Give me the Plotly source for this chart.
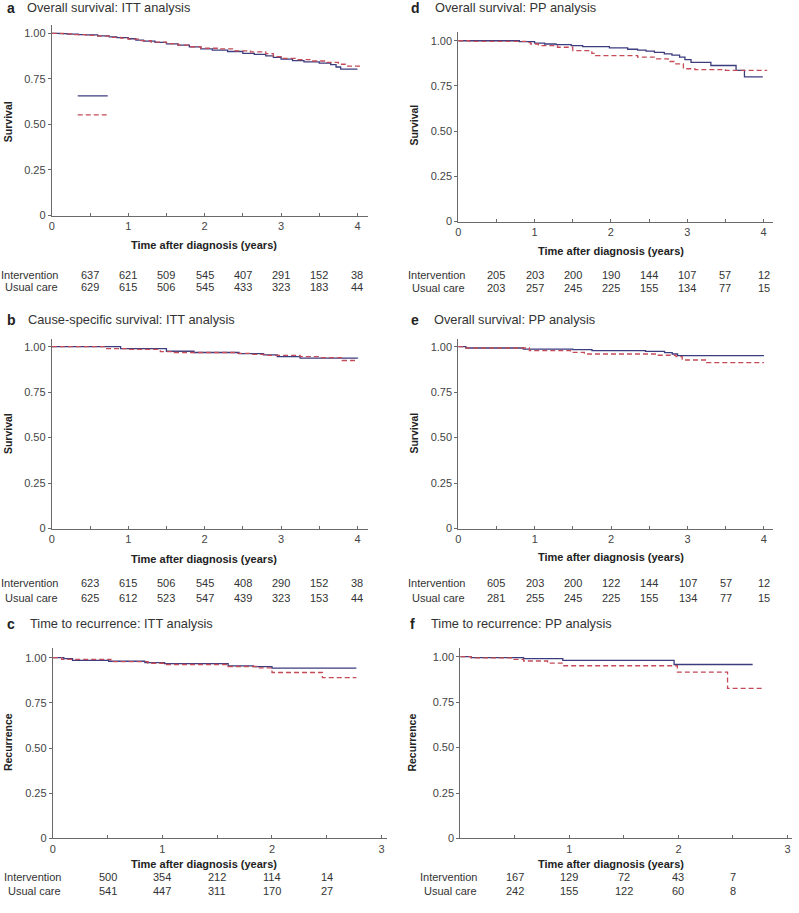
import plotly.graph_objects as go

W, H = 799, 913

# ---------------- data ----------------
series_names = ["Intervention", "Usual care"]

# a: Overall survival, ITT
a_int_t = [0, 0.1, 0.2, 0.35, 0.45, 0.6, 0.75, 0.85, 1.0, 1.1, 1.2, 1.35, 1.5, 1.65, 1.8, 1.95, 2.1, 2.3, 2.5,
           2.65, 2.8, 2.9, 3.0, 3.15, 3.3, 3.5, 3.65, 3.72, 3.78, 4.0]
a_int_s = [1.0, 0.998, 0.995, 0.993, 0.991, 0.986, 0.980, 0.976, 0.970, 0.963, 0.957, 0.950, 0.942, 0.935, 0.925,
           0.915, 0.908, 0.900, 0.890, 0.884, 0.876, 0.868, 0.858, 0.850, 0.843, 0.836, 0.828, 0.815, 0.803, 0.803]
a_usual_t = [0, 0.15, 0.3, 0.45, 0.6, 0.75, 0.9, 1.0, 1.15, 1.3, 1.5, 1.65, 1.8, 1.95, 2.2, 2.4, 2.6, 2.8, 2.9,
             3.0, 3.2, 3.4, 3.6, 3.75, 3.85, 4.05]
a_usual_s = [1.0, 0.997, 0.993, 0.988, 0.984, 0.978, 0.973, 0.968, 0.960, 0.952, 0.943, 0.935, 0.926, 0.918, 0.914,
             0.904, 0.898, 0.888, 0.872, 0.862, 0.856, 0.848, 0.840, 0.830, 0.820, 0.820]

# b: Cause-specific survival, ITT
b_int_t = [0, 0.9, 1.5, 1.86, 2.45, 2.77, 2.95, 3.25, 4.0]
b_int_s = [1.0, 0.99, 0.975, 0.968, 0.962, 0.955, 0.945, 0.937, 0.935]
b_usual_t = [0, 0.7, 1.0, 1.42, 1.6, 2.4, 2.6, 2.8, 3.25, 3.5, 3.8, 4.0]
b_usual_s = [1.0, 0.99, 0.985, 0.973, 0.968, 0.963, 0.958, 0.952, 0.945, 0.940, 0.924, 0.924]

# c: Time to recurrence, ITT
c_int_t = [0, 0.1, 0.18, 0.51, 0.84, 1.02, 1.6, 1.83, 2.0, 2.77]
c_int_s = [1.0, 0.995, 0.985, 0.98, 0.973, 0.967, 0.955, 0.95, 0.942, 0.942]
c_usual_t = [0, 0.08, 0.53, 0.87, 1.02, 1.6, 1.87, 2.0, 2.46, 2.77]
c_usual_s = [1.0, 0.991, 0.978, 0.969, 0.962, 0.951, 0.944, 0.918, 0.889, 0.889]

# d: Overall survival, PP
d_int_t = [0, 0.8, 1.0, 1.13, 1.28, 1.48, 1.63, 1.98, 2.22, 2.35, 2.46, 2.57, 2.7, 2.8, 2.9, 2.97, 3.05, 3.31,
           3.64, 3.75, 3.99]
d_int_s = [1.0, 0.995, 0.987, 0.982, 0.978, 0.973, 0.967, 0.960, 0.953, 0.948, 0.942, 0.936, 0.927, 0.920,
           0.909, 0.896, 0.880, 0.863, 0.836, 0.800, 0.800]
d_usual_t = [0, 0.15, 0.9, 0.95, 1.05, 1.3, 1.5, 1.75, 1.8, 2.35, 2.6, 2.75, 2.85, 2.95, 3.1, 3.5, 4.04]
d_usual_s = [1.0, 0.996, 0.99, 0.982, 0.973, 0.964, 0.945, 0.93, 0.918, 0.909, 0.90, 0.885, 0.872, 0.845,
             0.84, 0.836, 0.834]

# e: Overall survival, PP
e_int_t = [0, 0.1, 0.85, 1.5, 1.75, 2.45, 2.7, 2.8, 2.87, 4.0]
e_int_s = [1.0, 0.993, 0.987, 0.984, 0.978, 0.974, 0.967, 0.96, 0.951, 0.951]
e_usual_t = [0, 0.1, 0.93, 1.47, 1.65, 2.6, 2.85, 2.93, 3.25, 4.0]
e_usual_s = [1.0, 0.993, 0.978, 0.969, 0.96, 0.953, 0.945, 0.927, 0.912, 0.912]

# f: Time to recurrence, PP
f_int_t = [0, 0.1, 0.58, 0.94, 1.96, 2.68]
f_int_s = [1.0, 0.995, 0.989, 0.98, 0.957, 0.957]
f_usual_t = [0, 0.1, 0.48, 0.58, 0.8, 0.94, 1.99, 2.45, 2.77]
f_usual_s = [1.0, 0.993, 0.985, 0.976, 0.964, 0.95, 0.915, 0.826, 0.826]

# numbers at risk
risk_times_4y = [0.5, 1, 1.5, 2, 2.5, 3, 3.5, 4]
risk_times_3y = [0.5, 1, 1.5, 2, 2.5]
a_risk_int = [637, 621, 509, 545, 407, 291, 152, 38]
a_risk_usual = [629, 615, 506, 545, 433, 323, 183, 44]
b_risk_int = [623, 615, 506, 545, 408, 290, 152, 38]
b_risk_usual = [625, 612, 523, 547, 439, 323, 153, 44]
c_risk_int = [500, 354, 212, 114, 14]
c_risk_usual = [541, 447, 311, 170, 27]
d_risk_int = [205, 203, 200, 190, 144, 107, 57, 12]
d_risk_usual = [203, 257, 245, 225, 155, 134, 77, 15]
e_risk_int = [605, 203, 200, 122, 144, 107, 57, 12]
e_risk_usual = [281, 255, 245, 225, 155, 134, 77, 15]
f_risk_int = [167, 129, 72, 43, 7]
f_risk_usual = [242, 155, 122, 60, 8]

y_tickvals = [0, 0.25, 0.5, 0.75, 1.0]
y_ticktext = ["0", "0.25", "0.50", "0.75", "1.00"]

# ---------------- styling / layout (pixels) ----------------
FONT = "Liberation Sans, Arial, Helvetica, sans-serif"
C_INT = "#3b3d7e"
C_USU = "#c44b57"
AXC = "#6a6a6a"
TXT = "#333333"

panels = [
    dict(key="a", letter="a", title="Overall survival: ITT analysis", ylab="Survival",
         lx=2, tx=22, ty=8, x0=49, xend=366, xu=76.7, y0=217, y1=33.5, ytop=25,
         ytx=5, yty=122, xtitle_x=202, xtitle_y=247, row_x=57, rows_y=(277, 289),
         data=(a_int_t, a_int_s, a_usual_t, a_usual_s), risk=(risk_times_4y, a_risk_int, a_risk_usual),
         xt=[0, 1, 2, 3, 4], minor=[0.5, 1.5, 2.5, 3.5]),
    dict(key="b", letter="b", title="Cause-specific survival: ITT analysis", ylab="Survival",
         lx=2, tx=23, ty=322, x0=49, xend=366, xu=76.7, y0=532, y1=349, ytop=341,
         ytx=5, yty=436, xtitle_x=202, xtitle_y=563, row_x=57, rows_y=(587, 602),
         data=(b_int_t, b_int_s, b_usual_t, b_usual_s), risk=(risk_times_4y, b_risk_int, b_risk_usual),
         xt=[0, 1, 2, 3, 4], minor=[0.5, 1.5, 2.5, 3.5]),
    dict(key="c", letter="c", title="Time to recurrence: ITT analysis", ylab="Recurrence",
         lx=2, tx=25, ty=628, x0=50, xend=385, xu=110.0, y0=844, y1=662, ytop=652,
         ytx=5, yty=747, xtitle_x=202, xtitle_y=870, row_x=60, rows_y=(883, 897),
         data=(c_int_t, c_int_s, c_usual_t, c_usual_s), risk=(risk_times_3y, c_risk_int, c_risk_usual),
         xt=[0, 1, 2, 3], minor=[0.5, 1.5, 2.5]),
    dict(key="d", letter="d", title="Overall survival: PP analysis", ylab="Survival",
         lx=408, tx=432, ty=8, x0=457, xend=773, xu=76.6, y0=223, y1=41, ytop=32,
         ytx=413, yty=126, xtitle_x=610, xtitle_y=253, row_x=466, rows_y=(277, 290),
         data=(d_int_t, d_int_s, d_usual_t, d_usual_s), risk=(risk_times_4y, d_risk_int, d_risk_usual),
         xt=[0, 1, 2, 3, 4], minor=[0.5, 1.5, 2.5, 3.5]),
    dict(key="e", letter="e", title="Overall survival: PP analysis", ylab="Survival",
         lx=408, tx=431, ty=322, x0=457, xend=773, xu=76.7, y0=532, y1=349, ytop=341,
         ytx=413, yty=436, xtitle_x=610, xtitle_y=561, row_x=466, rows_y=(587, 602),
         data=(e_int_t, e_int_s, e_usual_t, e_usual_s), risk=(risk_times_4y, e_risk_int, e_risk_usual),
         xt=[0, 1, 2, 3, 4], minor=[0.5, 1.5, 2.5, 3.5]),
    dict(key="f", letter="f", title="Time to recurrence: PP analysis", ylab="Recurrence",
         lx=407, tx=428, ty=628, x0=459, xend=792, xu=109.5, y0=844, y1=661, ytop=652,
         ytx=411, yty=747, xtitle_x=610, xtitle_y=870, row_x=478, rows_y=(883, 897),
         data=(f_int_t, f_int_s, f_usual_t, f_usual_s), risk=(risk_times_3y, f_risk_int, f_risk_usual),
         xt=[1, 2, 3], minor=[0.5, 1.5, 2.5]),
]


def px(x):
    return x / W


def py(y):
    return 1 - y / H


fig = go.Figure()
annotations = []
layout = {}

for i, p in enumerate(panels):
    n = "" if i == 0 else str(i + 1)
    xa, ya = "xaxis" + n, "yaxis" + n
    xr, yr = "x" + n, "y" + n
    t_int, s_int, t_usu, s_usu = p["data"]
    fig.add_trace(go.Scatter(x=t_int, y=s_int, mode="lines", name=series_names[0], xaxis=xr, yaxis=yr,
                             line=dict(color=C_INT, width=1.3, shape="hv"), showlegend=(i == 0),
                             legendgroup="int"))
    fig.add_trace(go.Scatter(x=t_usu, y=s_usu, mode="lines", name=series_names[1], xaxis=xr, yaxis=yr,
                             line=dict(color=C_USU, width=1.3, shape="hv", dash="5px,3px"),
                             showlegend=(i == 0), legendgroup="usu"))

    xmax = (p["xend"] - p["x0"]) / p["xu"]
    ymax = (p["y0"] - p["ytop"]) / (p["y0"] - p["y1"])
    layout[xa] = dict(domain=[px(p["x0"]), px(p["xend"])], range=[0, xmax], anchor=yr,
                      tickvals=p["xt"], ticktext=[str(v) for v in p["xt"]],
                      ticks="inside", ticklen=3, tickwidth=1, tickcolor=AXC,
                      minor=dict(tickvals=p["minor"], ticks="inside", ticklen=3, tickwidth=1, tickcolor=AXC),
                      showline=True, linecolor=AXC, linewidth=1, showgrid=False, zeroline=False,
                      tickfont=dict(family=FONT, size=11, color="#444444"), fixedrange=True)
    layout[ya] = dict(domain=[py(p["y0"]), py(p["ytop"])], range=[0, ymax], anchor=xr,
                      tickvals=y_tickvals, ticktext=y_ticktext,
                      ticks="outside", ticklen=3, tickwidth=1, tickcolor=AXC,
                      showline=True, linecolor=AXC, linewidth=1, showgrid=False, zeroline=False,
                      tickfont=dict(family=FONT, size=11, color="#444444"), fixedrange=True)

    # panel letter + title
    annotations.append(dict(text="<b>%s</b>" % p["letter"], x=px(p["lx"]), y=py(p["ty"]), xref="paper",
                            yref="paper", xanchor="left", yanchor="middle", showarrow=False,
                            font=dict(family=FONT, size=14, color="#222222")))
    annotations.append(dict(text=p["title"], x=px(p["tx"]), y=py(p["ty"]), xref="paper", yref="paper",
                            xanchor="left", yanchor="middle", showarrow=False,
                            font=dict(family=FONT, size=12.8, color=TXT)))
    # y title
    annotations.append(dict(text="<b>%s</b>" % p["ylab"], x=px(p["ytx"]), y=py(p["yty"]), xref="paper",
                            yref="paper", xanchor="center", yanchor="middle", textangle=-90, showarrow=False,
                            font=dict(family=FONT, size=10.5, color="#222222")))
    # x title
    annotations.append(dict(text="<b>Time after diagnosis (years)</b>", x=px(p["xtitle_x"]),
                            y=py(p["xtitle_y"]), xref="paper", yref="paper", xanchor="center",
                            yanchor="middle", showarrow=False, font=dict(family=FONT, size=11, color="#222222")))
    # risk table
    rt, r_int, r_usu = p["risk"]
    for lab, vals, yy in ((series_names[0], r_int, p["rows_y"][0]), (series_names[1], r_usu, p["rows_y"][1])):
        annotations.append(dict(text=lab, x=px(p["row_x"]), y=py(yy), xref="paper", yref="paper",
                                xanchor="right", yanchor="middle", showarrow=False,
                                font=dict(family=FONT, size=11, color=TXT)))
        for t, v in zip(rt, vals):
            annotations.append(dict(text=str(v), x=t, y=py(yy), xref=xr, yref="paper", xanchor="center",
                                    yanchor="middle", showarrow=False,
                                    font=dict(family=FONT, size=11, color=TXT)))

fig.update_layout(
    width=W, height=H, margin=dict(l=0, r=0, t=0, b=0),
    paper_bgcolor="white", plot_bgcolor="white",
    annotations=annotations,
    showlegend=True,
    legend=dict(x=px(70), y=py(82), xanchor="left", yanchor="top", bgcolor="rgba(0,0,0,0)",
                font=dict(family=FONT, size=10.5, color="rgba(0,0,0,0)"), tracegroupgap=0,
                borderwidth=0),
    **layout,
)

fig.write_html("out.html", config={"displayModeBar": False},
               post_script="document.body.style.margin='0';document.body.style.overflow='hidden';")
